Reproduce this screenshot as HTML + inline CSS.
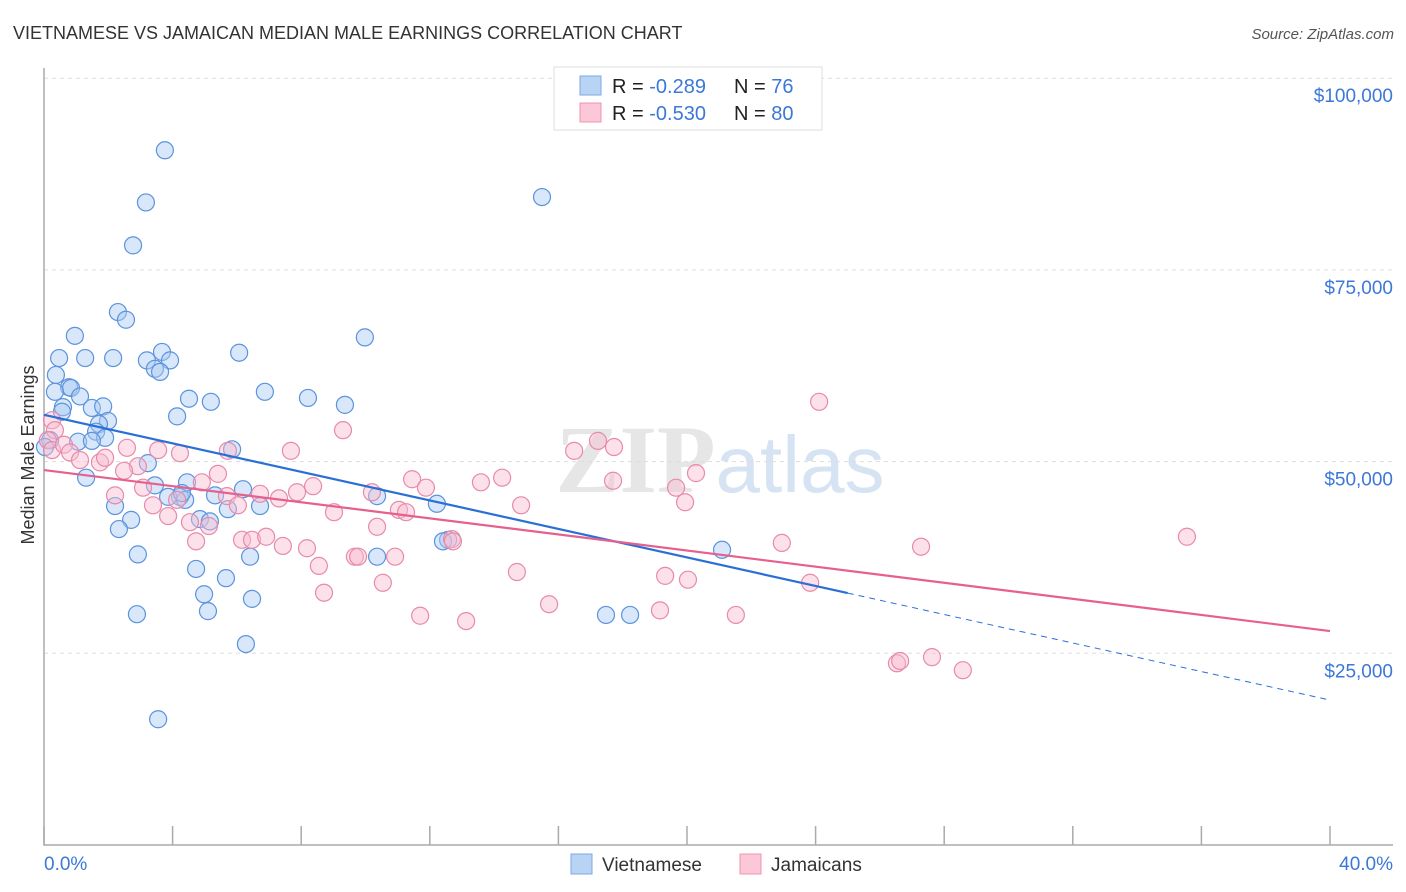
<!DOCTYPE html>
<html><head><meta charset="utf-8"><style>
body{margin:0;background:#fff;font-family:"Liberation Sans",sans-serif;}
svg{display:block}
</style></head><body>
<svg id="chart" width="1406" height="892" xmlns="http://www.w3.org/2000/svg">
<text x="13" y="39" font-size="18" fill="#333" font-family="Liberation Sans, sans-serif">VIETNAMESE VS JAMAICAN MEDIAN MALE EARNINGS CORRELATION CHART</text>
<text x="1394" y="39" font-size="15" fill="#555" text-anchor="end" font-style="italic">Source: ZipAtlas.com</text>
<text x="720" y="492" font-size="96" fill="#e6e6e6" text-anchor="middle" font-family="Liberation Serif, serif" font-weight="bold">ZIP<tspan fill="#d5e3f3" font-family="Liberation Sans, sans-serif" font-weight="normal" font-size="80">atlas</tspan></text>
<g id="grid"></g>
<g id="axes"></g>
<g id="points"></g>
<g id="trends"></g>
<text transform="translate(34,455) rotate(-90)" font-size="18" fill="#333" text-anchor="middle">Median Male Earnings</text>
<g>
<rect x="554" y="67" width="268" height="63" fill="#fff" stroke="#ddd"/>
<rect x="580" y="76" width="21" height="19" fill="#b9d3f5" stroke="#7aa8e6"/>
<rect x="580" y="103" width="21" height="19" fill="#fcc8d8" stroke="#ec95b0"/>
<text x="612" y="93" font-size="20" fill="#222">R = <tspan fill="#3b78d8">-0.289</tspan></text>
<text x="734" y="93" font-size="20" fill="#222">N = <tspan fill="#3b78d8"> 76</tspan></text>
<text x="612" y="120" font-size="20" fill="#222">R = <tspan fill="#3b78d8">-0.530</tspan></text>
<text x="734" y="120" font-size="20" fill="#222">N = <tspan fill="#3b78d8">80</tspan></text>
</g>
<g>
<rect x="571" y="854" width="21" height="20" fill="#b9d3f5" stroke="#7aa8e6"/>
<text x="602" y="871" font-size="19" fill="#333">Vietnamese</text>
<rect x="740" y="854" width="21" height="20" fill="#fcc8d8" stroke="#ec95b0"/>
<text x="771" y="871" font-size="19" fill="#333">Jamaicans</text>
</g>
</svg>
<script>
const blueX=[3.76,3.17,15.49,2.77,2.30,2.55,0.96,9.98,0.47,1.28,2.15,3.20,3.67,3.92,3.45,6.07,0.37,0.78,0.84,0.34,1.12,6.87,5.19,4.51,8.21,9.36,0.59,1.49,1.84,0.56,4.14,1.99,1.71,1.62,1.90,0.19,1.06,1.49,5.85,0.03,3.23,1.31,3.45,4.45,4.23,4.39,5.32,6.19,10.36,2.21,5.72,6.72,12.22,4.85,5.16,2.71,2.33,12.57,2.92,6.41,10.36,4.73,5.66,4.98,6.47,2.89,5.10,17.48,18.23,6.28,3.55,21.09,12.41,3.86,4.29,3.61];
const blueY=[90.6,83.8,84.5,78.2,69.5,68.5,66.4,66.2,63.5,63.5,63.5,63.2,64.3,63.2,62.1,64.2,61.3,59.7,59.6,59.1,58.5,59.1,57.8,58.2,58.3,57.4,57.1,57.0,57.2,56.5,55.9,55.3,54.9,53.9,53.1,52.8,52.6,52.7,51.6,51.9,49.8,47.9,46.9,47.3,45.4,45.0,45.6,46.4,45.5,44.2,43.8,44.2,44.5,42.5,42.2,42.4,41.2,39.8,37.9,37.6,37.6,36.0,34.8,32.7,32.1,30.1,30.5,30.0,30.0,26.2,16.4,38.5,39.6,45.4,45.9,61.7];
const pinkX=[0.25,0.34,0.12,0.25,0.62,0.81,1.12,1.74,1.90,2.58,2.92,3.55,4.23,5.72,7.68,9.30,17.23,17.73,16.49,24.11,2.49,2.21,3.08,3.39,3.86,4.14,4.54,4.73,4.91,5.13,5.41,5.69,6.03,6.16,6.47,6.72,6.91,7.31,7.43,7.87,8.18,8.37,8.55,8.71,9.02,9.67,9.77,10.20,10.36,10.54,10.92,11.04,11.26,11.45,11.70,11.88,12.69,13.13,13.59,14.25,14.71,14.84,15.71,17.70,19.32,19.16,20.03,19.66,19.94,20.28,21.52,22.95,23.83,26.53,26.63,27.28,27.62,28.58,35.55,12.72];
const pinkY=[55.4,54.1,52.8,51.5,52.2,51.2,50.2,49.9,50.5,51.8,49.4,51.5,51.1,51.4,51.4,54.1,52.7,51.9,51.4,57.8,48.8,45.6,46.6,44.3,42.9,45.0,42.1,39.6,47.3,41.6,48.4,45.5,44.3,39.8,39.8,45.8,40.2,45.2,39.0,46.0,38.7,46.8,36.4,32.9,43.4,37.6,37.6,46.0,41.5,34.2,37.6,43.7,43.4,47.7,29.9,46.6,39.9,29.2,47.3,47.9,35.6,44.3,31.4,47.5,35.1,30.6,34.6,46.6,44.7,48.5,30.0,39.4,34.2,23.7,24.0,38.9,24.5,22.8,40.2,39.6];
const blueTrend=[56.1,18.9];
const blueSolidEnd=25.0;
const pinkTrend=[48.9,27.9];
const yTicks=[25,50,75,100];
const yTickLabels=["$25,000","$50,000","$75,000","$100,000"];
const xTicks=[0,4,8,12,16,20,24,28,32,36,40];

const NS="http://www.w3.org/2000/svg";
const X0=44,X1=1330,Y0=845,YK=191.7/25;
function sx(v){return X0+(X1-X0)*v/40;}
function sy(v){return Y0-v*YK;}
function mk(tag,attrs,parent){const e=document.createElementNS(NS,tag);for(const k in attrs)e.setAttribute(k,attrs[k]);parent.appendChild(e);return e;}
const grid=document.getElementById('grid'),axes=document.getElementById('axes'),pts=document.getElementById('points'),tr=document.getElementById('trends');
yTicks.forEach((t,i)=>{
 const l=mk('line',{x1:X0,x2:1393,y1:sy(t),y2:sy(t),stroke:'#ddd','stroke-dasharray':'4,4'},grid);
 
 
 const tx=mk('text',{x:1393,y:sy(t)+24,'font-size':19,fill:'#3b78d8','text-anchor':'end'},grid);
 tx.textContent=yTickLabels[i];
 
 
});
const ax=mk('path',{d:`M${X0},68 V${Y0} H1393`,stroke:'#aaa',fill:'none','stroke-width':1.5},axes);


xTicks.forEach(t=>{
 const l=mk('line',{x1:sx(t),x2:sx(t),y1:826,y2:Y0,stroke:'#aaa','stroke-width':1.5},axes);
 
 
});
const xl0=mk('text',{x:44,y:870,'font-size':19,fill:'#3b78d8'},axes);xl0.textContent='0.0%';


const xl1=mk('text',{x:1393,y:870,'font-size':19,fill:'#3b78d8','text-anchor':'end'},axes);xl1.textContent='40.0%';


function dots(xs,ys,fill,stroke,name){xs.forEach((x,i)=>{
 const c=mk('circle',{cx:sx(x),cy:sy(ys[i]),r:8.5,fill:fill,'fill-opacity':0.45,stroke:stroke,'stroke-width':1.2},pts);
 
 
});}
dots(blueX,blueY,'#a9c9f2','#5b93dd','vietnamese-point');
dots(pinkX,pinkY,'#f9bcd0','#e88aaa','jamaican-point');
function yAt(tv,x){return tv[0]+(tv[1]-tv[0])*x/40;}
const b1=mk('line',{x1:sx(0),y1:sy(blueTrend[0]),x2:sx(blueSolidEnd),y2:sy(yAt(blueTrend,blueSolidEnd)),stroke:'#2a6fd6','stroke-width':2.2},tr);


const b2=mk('line',{x1:sx(blueSolidEnd),y1:sy(yAt(blueTrend,blueSolidEnd)),x2:sx(40),y2:sy(blueTrend[1]),stroke:'#2a6fd6','stroke-width':1,'stroke-dasharray':'6,5'},tr);


const p1=mk('line',{x1:sx(0),y1:sy(pinkTrend[0]),x2:sx(40),y2:sy(pinkTrend[1]),stroke:'#e5608e','stroke-width':2.2},tr);


</script>
</body></html>
